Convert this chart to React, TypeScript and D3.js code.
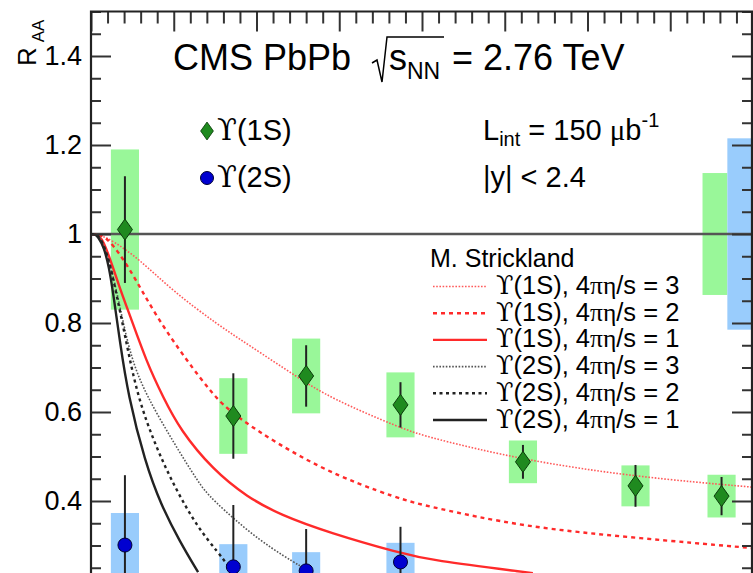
import React, { useEffect, useRef } from "react";
import * as d3 from "d3";

const npart1S = [20.5, 86, 130, 187, 261, 329, 381];
const raa1S = [1.01, 0.591, 0.681, 0.616, 0.488, 0.434, 0.411];
const stat1S = [0.12, 0.096, 0.069, 0.051, 0.038, 0.047, 0.043];
const syst1S = [0.18, 0.085, 0.084, 0.073, 0.048, 0.046, 0.048];

const npart2S = [20.5, 86, 130, 187];
const raa2S = [0.301, 0.252, 0.243, 0.263];
const stat2S = [0.157, 0.139, 0.094, 0.079];
const syst2S = [0.072, 0.051, 0.042, 0.043];

// global (min-bias) uncertainty boxes at R_AA = 1
const globalNpart = [377, 392];
const globalUnc = [0.137, 0.215];

// M. Strickland curves, [Npart, R_AA]
const strick1S_3 = [[0, 1], [6, 0.997], [13, 0.985], [28.4, 0.946], [50, 0.87], [76.7, 0.796], [94.3, 0.753], [126, 0.675], [144.4, 0.632], [186.7, 0.564], [204.8, 0.542], [261, 0.492], [329.3, 0.454], [400, 0.431]];
const strick1S_2 = [[0, 1], [5, 0.999], [10.3, 0.99], [22.4, 0.93], [38.7, 0.818], [58.6, 0.712], [72.5, 0.645], [85.8, 0.591], [138.1, 0.47], [186.7, 0.404], [204.8, 0.387], [261, 0.342], [329.3, 0.317], [400, 0.294]];
const strick1S_1 = [[0, 1], [4, 0.999], [8, 0.985], [18.1, 0.87], [22.4, 0.829], [33.8, 0.71], [43.5, 0.634], [53.8, 0.56], [73.7, 0.47], [94.3, 0.409], [114.2, 0.369], [144.4, 0.328], [186.7, 0.283], [204.8, 0.267], [267, 0.238]];
const strick2S_3 = [[0, 1], [3.5, 0.999], [6.6, 0.99], [12.7, 0.919], [18.1, 0.825], [24.2, 0.721], [33.2, 0.638], [50.8, 0.526], [64.7, 0.443], [71.9, 0.407], [102.1, 0.308], [130.5, 0.245]];
const strick2S_2 = [[0, 1], [3, 0.999], [5.4, 0.993], [10.3, 0.953], [15.1, 0.87], [20.5, 0.773], [27.8, 0.638], [38.7, 0.526], [50.8, 0.429], [64.7, 0.339], [76.7, 0.285], [84, 0.249]];
const strick2S_1 = [[0, 1], [2.5, 0.999], [4.2, 0.994], [7.9, 0.97], [10.9, 0.925], [13.3, 0.87], [17.5, 0.757], [22.4, 0.638], [32.6, 0.488], [42.3, 0.391], [53.8, 0.308], [64.7, 0.24]];

const legendLabels = ["(1S), 4", "(1S), 4", "(1S), 4", "(2S), 4", "(2S), 4", "(2S), 4"];
const legendEta = ["3", "2", "1", "3", "2", "1"];

const yMajor = [0.4, 0.6, 0.8, 1, 1.2, 1.4];

const W = 753;
const H = 573;
const FONT = "'Liberation Sans', Arial, Helvetica, sans-serif";
const UPS = "'DejaVu Serif', 'Liberation Serif', serif";
const GREEK = "'Liberation Serif', 'Times New Roman', serif";

const App = () => {
  const ref = useRef<SVGSVGElement>(null);

  useEffect(() => {
    const svg = d3.select(ref.current);
    svg.selectAll("*").remove();

    const x = d3.scaleLinear().domain([0, 400]).range([91, 753]);
    const y = d3.scaleLinear().domain([0.2, 1.5]).range([590, 11.5]);
    const left = 91, right = 752, top = 11.5;

    svg.append("rect").attr("width", W).attr("height", H).attr("fill", "white");

    svg.append("clipPath").attr("id", "plotclip")
      .append("rect").attr("x", left).attr("y", top).attr("width", right - left).attr("height", H - top);

    const plot = svg.append("g").attr("clip-path", "url(#plotclip)");

    const boxHalf = 8.5; // Npart units
    const boxW = x(2 * boxHalf) - x(0);
    // systematic boxes
    plot.selectAll(".box1").data(npart1S).enter().append("rect")
      .attr("x", (d) => x(d - boxHalf))
      .attr("width", boxW)
      .attr("y", (d, i) => y(raa1S[i] + syst1S[i]))
      .attr("height", (d, i) => y(raa1S[i] - syst1S[i]) - y(raa1S[i] + syst1S[i]))
      .attr("fill", "#99f799");
    plot.selectAll(".box2").data(npart2S).enter().append("rect")
      .attr("x", (d) => x(d - boxHalf))
      .attr("width", boxW)
      .attr("y", (d, i) => y(raa2S[i] + syst2S[i]))
      .attr("height", (d, i) => y(raa2S[i] - syst2S[i]) - y(raa2S[i] + syst2S[i]))
      .attr("fill", "#99ccfc");
    const gColors = ["#99f799", "#99ccfc"];
    plot.selectAll(".gbox").data(globalNpart).enter().append("rect")
      .attr("x", (d) => x(d - 7.5))
      .attr("width", x(15) - x(0))
      .attr("y", (d, i) => y(1 + globalUnc[i]))
      .attr("height", (d, i) => y(1 - globalUnc[i]) - y(1 + globalUnc[i]))
      .attr("fill", (d, i) => gColors[i]);

    // unity line
    plot.append("line")
      .attr("x1", left).attr("x2", right)
      .attr("y1", y(1)).attr("y2", y(1))
      .attr("stroke", "#555").attr("stroke-width", 2.5);

    // theory curves
    const line = d3.line<number[]>().x((d) => x(d[0])).y((d) => y(d[1])).curve(d3.curveBasis);
    const curves = [
      { data: strick1S_3, color: "#ff5a5a", width: 1.6, dash: "1.6 1.6" },
      { data: strick1S_2, color: "#ff2a2a", width: 2.4, dash: "4 4" },
      { data: strick1S_1, color: "#ff2a2a", width: 2.4, dash: null },
      { data: strick2S_3, color: "#555", width: 1.6, dash: "1.6 1.6" },
      { data: strick2S_2, color: "#222", width: 2.4, dash: "3 3.5" },
      { data: strick2S_1, color: "#222", width: 2.4, dash: null },
    ];
    curves.forEach((c) => {
      plot.append("path")
        .attr("d", line(c.data))
        .attr("fill", "none")
        .attr("stroke", c.color)
        .attr("stroke-width", c.width)
        .attr("stroke-dasharray", c.dash);
    });

    // stat error bars
    plot.selectAll(".err1").data(npart1S).enter().append("line")
      .attr("x1", (d) => x(d)).attr("x2", (d) => x(d))
      .attr("y1", (d, i) => y(raa1S[i] + stat1S[i]))
      .attr("y2", (d, i) => y(raa1S[i] - stat1S[i]))
      .attr("stroke", "#222").attr("stroke-width", 2);
    plot.selectAll(".err2").data(npart2S).enter().append("line")
      .attr("x1", (d) => x(d)).attr("x2", (d) => x(d))
      .attr("y1", (d, i) => y(raa2S[i] + stat2S[i]))
      .attr("y2", (d, i) => y(raa2S[i] - stat2S[i]))
      .attr("stroke", "#222").attr("stroke-width", 2);

    const diamond = "M0,-10.5L7.5,0L0,10.5L-7.5,0Z";
    plot.selectAll(".d1").data(npart1S).enter().append("path")
      .attr("d", diamond)
      .attr("transform", (d, i) => `translate(${x(d)},${y(raa1S[i])})`)
      .attr("fill", "#1f8a1f").attr("stroke", "#0b3d0b").attr("stroke-width", 1);
    plot.selectAll(".c2").data(npart2S).enter().append("circle")
      .attr("cx", (d) => x(d)).attr("cy", (d, i) => y(raa2S[i]))
      .attr("r", 7)
      .attr("fill", "#0000d0").attr("stroke", "#000033").attr("stroke-width", 1);

    // axes with inward ticks
    const ax = svg.append("g").attr("font-family", FONT);
    const yMinor = d3.range(0.2, 1.51, 0.05).filter((v) => !yMajor.some((m) => Math.abs(m - v) < 1e-6));
    const xMajor = d3.range(0, 401, 50);
    const xMinor = d3.range(0, 401, 10).filter((v) => v % 50 !== 0);

    const leftAxis = ax.append("g").attr("transform", `translate(${left},0)`)
      .call(d3.axisLeft(y).tickValues(yMajor).tickSize(-20).tickPadding(9).tickFormat(d3.format("~g")));
    leftAxis.selectAll("text").attr("font-size", 27).attr("fill", "#000");
    ax.append("g").attr("transform", `translate(${left},0)`)
      .call(d3.axisLeft(y).tickValues(yMinor).tickSize(-10).tickFormat(() => ""));
    ax.append("g").attr("transform", `translate(${right},0)`)
      .call(d3.axisRight(y).tickValues(yMajor).tickSize(-20).tickFormat(() => ""));
    ax.append("g").attr("transform", `translate(${right},0)`)
      .call(d3.axisRight(y).tickValues(yMinor).tickSize(-10).tickFormat(() => ""));
    ax.append("g").attr("transform", `translate(0,${top})`)
      .call(d3.axisTop(x).tickValues(xMajor).tickSize(-20).tickFormat(() => ""));
    ax.append("g").attr("transform", `translate(0,${top})`)
      .call(d3.axisTop(x).tickValues(xMinor).tickSize(-12).tickFormat(() => ""));
    ax.selectAll(".domain").remove();
    ax.selectAll(".tick line").attr("stroke", "#333").attr("stroke-width", 2);

    // frame
    svg.append("path")
      .attr("d", `M${left},${H}V${top}H${right}V${H}`)
      .attr("fill", "none").attr("stroke", "#222").attr("stroke-width", 2.2);

    const txt = svg.append("g").attr("font-family", FONT).attr("fill", "#000");

    // y title
    const yt = txt.append("text").attr("transform", "translate(36,66) rotate(-90)").attr("font-size", 26);
    yt.append("tspan").text("R");
    yt.append("tspan").attr("dx", 5).attr("dy", 8).attr("font-size", 17).text("AA");

    // header
    txt.append("text").attr("x", 173).attr("y", 70).attr("font-size", 36).text("CMS PbPb");
    svg.append("path").attr("d", "M372,63L377,60L382,82L387,37H444")
      .attr("fill", "none").attr("stroke", "#000").attr("stroke-width", 1.5);
    const sq = txt.append("text").attr("x", 389).attr("y", 70).attr("font-size", 36);
    sq.append("tspan").text("s");
    sq.append("tspan").attr("dy", 9).attr("font-size", 23).text("NN");
    txt.append("text").attr("x", 452).attr("y", 70).attr("font-size", 36).text("= 2.76 TeV");

    // data legend
    svg.append("path").attr("d", diamond).attr("transform", "translate(207,131) scale(0.85)")
      .attr("fill", "#1f8a1f").attr("stroke", "#0b3d0b");
    svg.append("circle").attr("cx", 207).attr("cy", 178).attr("r", 6.5)
      .attr("fill", "#0000d0").attr("stroke", "#000033");
    ["(1S)", "(2S)"].forEach((s, i) => {
      const t = txt.append("text").attr("x", 217).attr("y", 140 + i * 47).attr("font-size", 29);
      t.append("tspan").attr("font-family", UPS).text("ϒ");
      t.append("tspan").text(s);
    });

    const lt = txt.append("text").attr("x", 483).attr("y", 140).attr("font-size", 29);
    lt.append("tspan").text("L");
    lt.append("tspan").attr("dy", 6).attr("font-size", 20).text("int");
    lt.append("tspan").attr("dy", -6).text(" = 150 ");
    lt.append("tspan").attr("font-family", GREEK).text("μ");
    lt.append("tspan").text("b");
    lt.append("tspan").attr("dy", -13).attr("font-size", 20).text("-1");
    txt.append("text").attr("x", 483).attr("y", 187).attr("font-size", 29).text("|y| < 2.4");

    // model legend
    txt.append("text").attr("x", 430).attr("y", 267).attr("font-size", 25).text("M. Strickland");
    curves.forEach((c, i) => {
      const by = 294 + i * 26.7;
      svg.append("line")
        .attr("x1", 433).attr("x2", 487).attr("y1", by - 7.5).attr("y2", by - 7.5)
        .attr("stroke", c.color).attr("stroke-width", c.width).attr("stroke-dasharray", c.dash);
      const t = txt.append("text").attr("x", 496).attr("y", by).attr("font-size", 25.5);
      t.append("tspan").attr("font-family", UPS).text("ϒ");
      t.append("tspan").text(legendLabels[i]);
      t.append("tspan").attr("font-family", GREEK).text("πη");
      t.append("tspan").text(`/s = ${legendEta[i]}`);
    });
  }, []);

  return (
    <svg
      ref={ref}
      width={W}
      height={H}
      style={{ position: "absolute", left: 0, top: 0, display: "block" }}
    />
  );
};

export default App;
